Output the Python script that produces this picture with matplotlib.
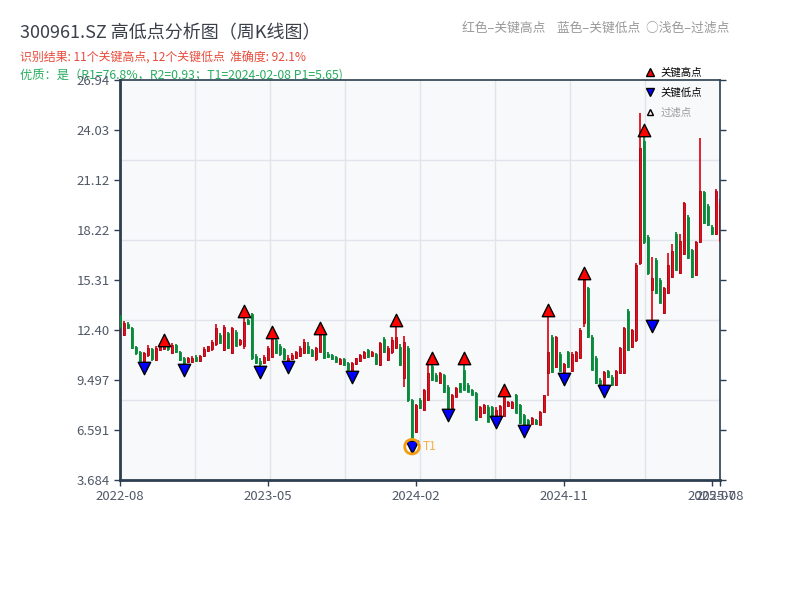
import numpy as np
import matplotlib
matplotlib.use('Agg')
import matplotlib.pyplot as plt
from matplotlib.lines import Line2D
from matplotlib.ticker import FixedLocator, FuncFormatter

plt.rcParams['font.family'] = ['Noto Sans CJK SC', 'DejaVu Sans']
plt.rcParams['axes.unicode_minus'] = False

# weekly candles
opens = [13.28, 12.11, 12.75, 12.52, 11.40, 11.15, 10.56, 10.95, 11.30, 10.66,
         11.24, 11.30, 11.50, 11.05, 11.55, 11.14, 10.80, 10.55, 10.55, 10.85,
         10.60, 10.90, 11.20, 11.30, 11.60, 12.10, 11.24, 12.20, 11.08, 12.30,
         11.60, 11.50, 13.00, 13.35, 10.90, 10.60, 10.50, 10.66, 10.85, 11.80,
         11.50, 11.30, 10.66, 10.70, 10.75, 10.90, 11.05, 11.50, 11.24, 10.70,
         11.14, 12.10, 11.00, 10.95, 10.85, 10.40, 10.70, 10.50, 10.03, 10.40,
         10.60, 10.80, 11.24, 10.90, 11.00, 10.37, 11.90, 10.66, 11.10, 11.36,
         11.43, 9.60, 11.34, 8.33, 6.49, 8.33, 7.75, 8.33, 10.30, 9.79,
         9.30, 9.79, 9.11, 7.87, 8.53, 9.30, 10.08, 9.20, 8.92, 8.74,
         7.36, 7.55, 7.95, 7.95, 7.40, 7.30, 7.40, 8.00, 7.85, 8.63,
         8.04, 7.46, 7.20, 6.95, 7.20, 6.90, 7.65, 9.90, 12.00, 10.27,
         11.00, 9.90, 11.10, 10.00, 10.60, 10.80, 12.80, 14.85, 12.00, 10.80,
         9.50, 9.10, 10.00, 9.70, 9.20, 9.90, 9.90, 13.50, 11.40, 11.80,
         16.30, 23.40, 17.80, 14.70, 16.50, 15.30, 13.40, 14.55, 15.50, 18.00,
         15.70, 16.80, 19.00, 17.05, 15.60, 17.50, 20.40, 19.60, 18.40, 18.00,
         17.60]
highs = [13.40, 12.90, 12.85, 12.60, 11.45, 11.20, 11.10, 11.55, 11.35, 11.45,
         11.50, 11.82, 11.55, 11.62, 11.60, 11.20, 10.85, 10.85, 10.90, 10.95,
         10.95, 11.40, 11.50, 11.80, 12.75, 12.20, 12.70, 12.30, 12.55, 12.40,
         11.90, 13.51, 13.05, 13.40, 11.00, 10.75, 10.95, 11.50, 12.30, 11.90,
         11.60, 11.35, 10.95, 11.05, 11.20, 11.45, 11.90, 11.70, 11.30, 11.40,
         12.52, 12.20, 11.10, 11.00, 10.90, 10.75, 10.75, 10.55, 10.55, 10.80,
         11.00, 11.20, 11.30, 11.20, 11.05, 11.70, 12.00, 11.50, 12.00, 12.99,
         11.60, 12.06, 11.50, 8.40, 8.10, 8.45, 9.00, 10.37, 10.78, 9.90,
         9.95, 9.85, 9.20, 8.70, 9.10, 9.35, 10.78, 9.30, 9.00, 8.80,
         8.00, 8.10, 8.05, 8.00, 7.90, 8.05, 8.92, 8.30, 8.30, 8.70,
         8.10, 7.50, 7.25, 7.35, 7.25, 7.70, 8.65, 13.57, 12.10, 12.05,
         11.10, 10.50, 11.20, 11.10, 11.20, 12.50, 15.72, 14.90, 12.10, 10.90,
         9.60, 10.00, 10.10, 9.80, 10.05, 11.40, 12.55, 13.60, 12.45, 16.30,
         24.998, 24.03, 17.90, 16.66, 16.60, 15.40, 14.90, 16.90, 17.40, 18.10,
         18.00, 19.85, 19.10, 17.10, 17.60, 23.56, 20.50, 19.70, 18.50, 20.60,
         20.00]
lows = [12.50, 12.05, 12.45, 11.30, 10.95, 10.60, 10.18, 10.85, 10.60, 10.60,
        11.20, 11.25, 11.20, 11.00, 11.05, 10.60, 10.05, 10.50, 10.50, 10.55,
        10.55, 10.85, 11.10, 11.20, 11.50, 11.60, 11.20, 11.30, 11.00, 11.45,
        11.50, 11.30, 12.70, 10.66, 10.45, 9.96, 10.45, 10.60, 10.80, 11.00,
        10.90, 10.65, 10.25, 10.65, 10.70, 10.85, 11.00, 11.00, 10.85, 10.60,
        11.10, 10.70, 10.75, 10.65, 10.50, 10.35, 10.30, 10.05, 9.67, 10.35,
        10.55, 10.75, 10.80, 10.85, 10.35, 10.30, 11.05, 10.60, 11.00, 11.30,
        10.30, 9.10, 8.20, 5.622, 6.40, 7.80, 7.70, 8.30, 9.45, 9.40,
        9.25, 8.75, 7.46, 7.85, 8.50, 8.80, 8.90, 8.80, 8.60, 7.15,
        7.30, 7.50, 7.05, 7.25, 7.03, 7.25, 7.35, 7.95, 7.80, 7.55,
        6.95, 6.53, 6.90, 6.90, 6.90, 6.88, 7.60, 8.57, 9.90, 10.20,
        9.95, 9.55, 10.20, 9.95, 10.55, 10.70, 12.60, 11.95, 10.05, 9.25,
        9.20, 8.84, 9.60, 9.15, 9.15, 9.85, 9.85, 11.20, 11.35, 11.70,
        16.20, 17.40, 15.60, 12.64, 14.50, 13.95, 13.35, 14.50, 15.40, 15.85,
        15.65, 16.75, 16.55, 15.45, 15.55, 17.45, 18.55, 18.45, 17.95, 17.95,
        17.55]
closes = [12.58, 12.81, 12.52, 11.36, 11.05, 10.62, 11.05, 11.34, 10.70, 11.36,
          11.43, 11.45, 11.30, 11.55, 11.13, 10.66, 10.50, 10.80, 10.80, 10.60,
          10.90, 11.30, 11.45, 11.70, 12.50, 11.65, 12.60, 11.36, 12.50, 11.50,
          11.80, 12.85, 12.75, 10.75, 10.50, 10.45, 10.85, 11.36, 11.90, 11.05,
          11.00, 10.70, 10.80, 10.95, 11.14, 11.36, 11.72, 11.06, 10.90, 11.34,
          12.20, 10.80, 10.85, 10.70, 10.56, 10.70, 10.37, 10.10, 10.50, 10.75,
          10.95, 11.10, 10.85, 11.10, 10.40, 11.65, 11.10, 11.36, 11.80, 12.00,
          10.37, 11.70, 8.33, 6.13, 8.04, 7.87, 8.92, 9.90, 9.50, 9.46,
          9.90, 8.82, 7.85, 8.63, 9.03, 8.82, 8.92, 8.82, 8.63, 7.17,
          7.95, 8.04, 7.07, 7.27, 7.75, 8.00, 8.50, 8.24, 8.24, 7.58,
          7.00, 6.82, 6.95, 7.30, 6.95, 7.65, 8.63, 11.14, 9.95, 12.00,
          10.00, 10.45, 10.25, 11.00, 11.10, 12.40, 15.30, 12.00, 10.08, 9.30,
          9.25, 9.96, 9.65, 9.20, 10.00, 11.36, 12.50, 11.24, 12.40, 16.20,
          23.00, 17.50, 15.70, 15.40, 14.55, 14.00, 14.85, 16.20, 17.00, 15.90,
          17.60, 19.80, 16.60, 15.50, 17.50, 20.50, 18.60, 18.50, 18.00, 20.50,
          19.80]

key_high_idx = [11, 31, 38, 50, 69, 78, 86, 96, 107, 116, 131]
key_low_idx = [6, 16, 35, 42, 58, 73, 82, 94, 101, 111, 121, 133]
t1_idx = 73

tick_idx = [0, 37, 74, 111, 148, 150]
tick_labels = ['2022-08', '2023-05', '2024-02', '2024-11', '2025-07', '2025-08']

o = np.array(opens)
h = np.array(highs)
l = np.array(lows)
c = np.array(closes)
n = len(c)
x = np.arange(n)
up = c >= o

fig = plt.figure(figsize=(8, 6), dpi=100)
ax = fig.add_axes([0.15, 0.2, 0.75, 0.6667])
ax.set_facecolor('#f7f9fb')
ax.set_axisbelow(True)

red = '#e0101e'
green = '#0a8a3c'
cols = np.where(up, red, green)
edge = np.where(up, '#b0000f', green)

ax.vlines(x, l, h, colors=cols, linewidth=1.3, zorder=2)
body_bot = np.minimum(o, c)
body_h = np.maximum(np.abs(c - o), 0.05)
ax.bar(x, body_h, bottom=body_bot, width=0.7, color=cols, edgecolor=edge,
       linewidth=0.6, zorder=3)

ax.scatter(x[key_high_idx], h[key_high_idx], marker='^', s=80, c='red',
           edgecolors='black', linewidths=1, zorder=5)
ax.scatter(x[key_low_idx], l[key_low_idx], marker='v', s=80, c='blue',
           edgecolors='black', linewidths=1, zorder=5)
ax.scatter([t1_idx], [l[t1_idx]], s=110, facecolors='none',
           edgecolors='#f39c12', linewidths=2, zorder=6)
ax.annotate('T1', (t1_idx, l[t1_idx]), xytext=(8, 0), textcoords='offset points',
            va='center', ha='left', fontsize=8.5, color='#f5b041', zorder=6)

rng = h.max() - l.min()
ymin = l.min() - 0.1 * rng
ymax = h.max() + 0.1 * rng
ax.set_ylim(ymin, ymax)
ax.set_xlim(0, n - 1)

ax.set_yticks(np.linspace(ymin, ymax, 9))
ax.yaxis.set_major_formatter(FuncFormatter(lambda v, p: f'{v:#.4g}'))
ax.set_xticks(tick_idx)
ax.set_xticklabels(tick_labels)

ax.xaxis.set_minor_locator(FixedLocator(np.linspace(0, n - 1, 9)))
ax.yaxis.set_minor_locator(FixedLocator(np.linspace(ymin, ymax, 6)))
ax.grid(which='minor', color='#e1e4ea', linewidth=1)
ax.grid(which='major', visible=False)
ax.tick_params(which='minor', length=0)
ax.tick_params(which='major', direction='out', length=4, width=1,
               colors='#2c3e50', labelcolor='#505868', labelsize=9.5)
ax.tick_params(axis='y', which='major', right=True)

for side in ['left', 'bottom']:
    ax.spines[side].set_color('#2c3e50')
    ax.spines[side].set_linewidth(2)
for side in ['top', 'right']:
    ax.spines[side].set_color('#2c3e50')
    ax.spines[side].set_linewidth(1.2)

fig.text(0.025, 0.945, '300961.SZ 高低点分析图（周K线图）', fontsize=13,
         color='#3a3f4a', va='center', ha='left')
fig.text(0.025, 0.903, '识别结果: 11个关键高点, 12个关键低点  准确度: 92.1%',
         fontsize=8.6, color='#e74c3c', va='center', ha='left')
fig.text(0.025, 0.873, '优质：是（R1=76.8%，R2=0.93；T1=2024-02-08 P1=5.65)',
         fontsize=8.8, color='#27ae60', va='center', ha='left', zorder=-1)
fig.text(0.578, 0.953, '红色–关键高点    蓝色–关键低点  ○浅色–过滤点',
         fontsize=9.2, color='#999999', va='center', ha='left')

handles = [
    Line2D([], [], marker='^', ls='none', mfc='red', mec='black', ms=6, label='关键高点'),
    Line2D([], [], marker='v', ls='none', mfc='blue', mec='black', ms=6, label='关键低点'),
    Line2D([], [], marker='^', ls='none', mfc='#fde8e8', mec='black', ms=4.5, label='过滤点'),
]
leg = fig.legend(handles=handles, loc='upper left', bbox_to_anchor=(0.807, 0.888),
                 frameon=False, fontsize=7.5, handlelength=0.8, handletextpad=0.6,
                 labelspacing=0.95, borderpad=0, borderaxespad=0)
leg.get_texts()[2].set_color('#999999')

fig.savefig('out.png', dpi=100)
